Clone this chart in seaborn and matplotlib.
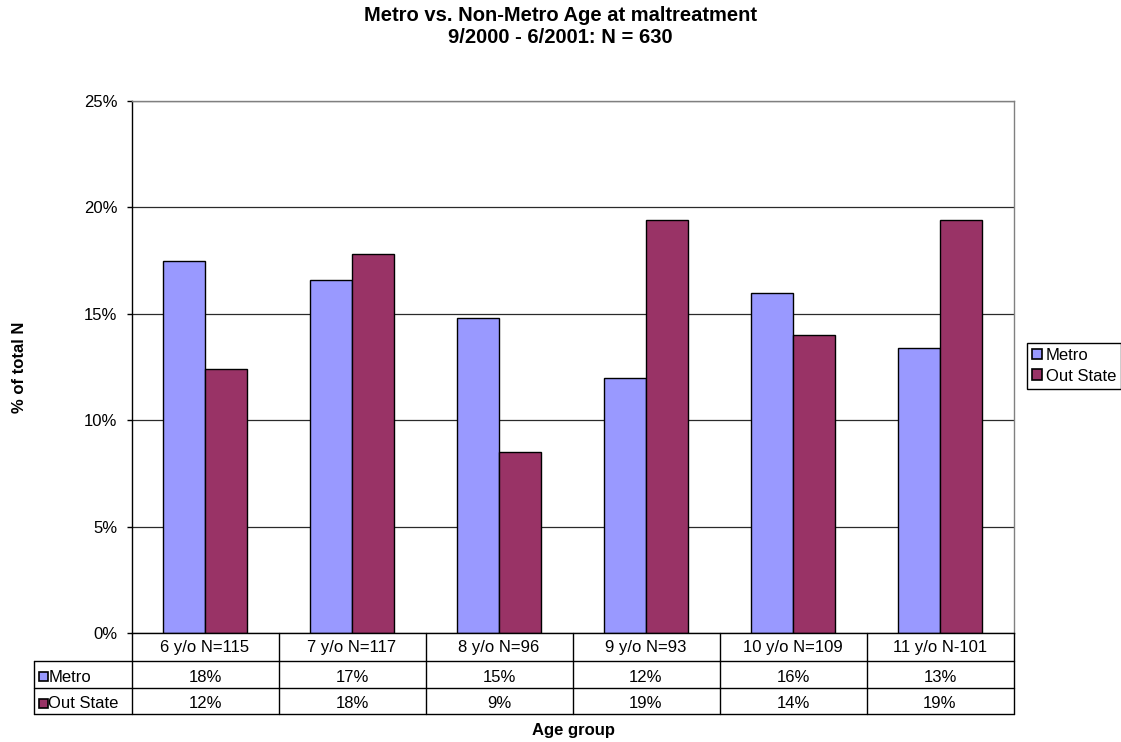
import numpy as np
import pandas as pd
import matplotlib
matplotlib.use("Agg")
import matplotlib.pyplot as plt
import seaborn as sns
from matplotlib.transforms import blended_transform_factory
from matplotlib.patches import Rectangle
from matplotlib.lines import Line2D

# ---- data -------------------------------------------------------------
age_groups = ["6 y/o N=115", "7 y/o N=117", "8 y/o N=96",
              "9 y/o N=93", "10 y/o N=109", "11 y/o N-101"]
metro = [17.5, 16.6, 14.8, 12.0, 16.0, 13.4]
out_state = [12.4, 17.8, 8.5, 19.4, 14.0, 19.4]
series_names = ["Metro", "Out State"]
series_colors = ["#9999FF", "#993366"]
y_ticks = [0, 5, 10, 15, 20, 25]

df = pd.DataFrame({
    "Age group": age_groups * 2,
    "Share": metro + out_state,
    "Region": [series_names[0]] * len(metro) + [series_names[1]] * len(out_state),
})

# ---- style ------------------------------------------------------------
sns.set_theme(style="white")
plt.rcParams["font.family"] = ["Liberation Sans", "DejaVu Sans"]
plt.rcParams["text.color"] = "black"
plt.rcParams["axes.labelcolor"] = "black"
plt.rcParams["xtick.color"] = "black"
plt.rcParams["ytick.color"] = "black"

FIG_W, FIG_H = 1121, 742
fig = plt.figure(figsize=(FIG_W / 100, FIG_H / 100), dpi=100)
fig.patch.set_facecolor("white")

# plot area in pixel terms
L, R, T, B = 131.5, 1013.5, 101, 633
ax = fig.add_axes([L / FIG_W, 1 - B / FIG_H, (R - L) / FIG_W, (B - T) / FIG_H])

def fy(py):
    return 1 - py / FIG_H

def fx(px):
    return px / FIG_W

FS = 12.0

sns.barplot(data=df, x="Age group", y="Share", hue="Region",
            palette=series_colors, saturation=1, width=0.57, gap=0,
            edgecolor="black", linewidth=1.0, errorbar=None,
            legend=False, ax=ax)

ax.set_xlim(-0.5, len(age_groups) - 0.5)
ax.set_ylim(0, 25)
ax.set_yticks(y_ticks)
ax.set_yticklabels([f"{v}%" for v in y_ticks], fontsize=FS, color="black")
ax.set_xticks([])
ax.set_xlabel("")
ax.set_ylabel("")
ax.yaxis.grid(True, color="#2a2a2a", linewidth=0.9)
ax.set_axisbelow(True)
ax.tick_params(axis="y", direction="out", length=3.5, width=1,
               color="black", pad=6.5, left=True)
for side in ["left", "bottom"]:
    ax.spines[side].set_color("black")
    ax.spines[side].set_linewidth(1.0)
for side in ["top", "right"]:
    ax.spines[side].set_color("#808080")
    ax.spines[side].set_linewidth(1.0)

# ---- data table under the plot ---------------------------------------
col_trans = blended_transform_factory(ax.transData, fig.transFigure)
edges = np.arange(len(age_groups) + 1) - 0.5
row_lines = [661, 687.5, 714]
for e in edges:
    fig.add_artist(Line2D([e, e], [fy(B), fy(714)], transform=col_trans,
                          color="black", linewidth=1.0))
fig.add_artist(Line2D([fx(34), fx(34)], [fy(661), fy(714)],
                      transform=fig.transFigure, color="black", linewidth=1.0))
for yl in row_lines:
    fig.add_artist(Line2D([fx(34), fx(R)], [fy(yl), fy(yl)],
                          transform=fig.transFigure, color="black", linewidth=1.0))

def pct(v):
    return f"{int(np.floor(v + 0.5))}%"

for i, name in enumerate(age_groups):
    fig.text(i, fy(652), name, transform=col_trans, ha="center",
             va="baseline", fontsize=FS)
    fig.text(i, fy(682.5), pct(metro[i]), transform=col_trans, ha="center",
             va="baseline", fontsize=FS)
    fig.text(i, fy(708.5), pct(out_state[i]), transform=col_trans, ha="center",
             va="baseline", fontsize=FS)

for name, color, top, base in zip(series_names, series_colors,
                                  [672, 698.5], [682.5, 708.5]):
    fig.add_artist(Rectangle((fx(38.5), fy(top + 9)), 9 / FIG_W, 9 / FIG_H,
                             transform=fig.transFigure, facecolor=color,
                             edgecolor="black", linewidth=1.2))
    fig.text(fx(48.5), fy(base), name, ha="left", va="baseline", fontsize=FS)

# ---- legend -----------------------------------------------------------
handles = [Rectangle((0, 0), 1, 1, facecolor=c, edgecolor="black", linewidth=1.2)
           for c in series_colors]
fig.legend(handles, series_names, loc="upper left",
           bbox_to_anchor=(fx(1026.7), fy(342.7)), frameon=True,
           fancybox=False, edgecolor="black", framealpha=1, fontsize=FS,
           handlelength=0.6, handleheight=0.6, handletextpad=0.25,
           borderpad=0.3, labelspacing=0.35, borderaxespad=0)

# ---- titles -----------------------------------------------------------
fig.text(0.5, fy(20.7), "Metro vs. Non-Metro Age at maltreatment",
         ha="center", va="baseline", fontsize=14.5, fontweight="bold")
fig.text(0.5, fy(42.7), "9/2000 - 6/2001: N = 630",
         ha="center", va="baseline", fontsize=14.5, fontweight="bold")
fig.text(fx(573), fy(735.3), "Age group", ha="center", va="baseline",
         fontsize=12, fontweight="bold")
fig.text(fx(19.5), fy(367), "% of total N", ha="center", va="center",
         rotation=90, fontsize=12, fontweight="bold")

fig.savefig("out.png", dpi=100, facecolor="white")
